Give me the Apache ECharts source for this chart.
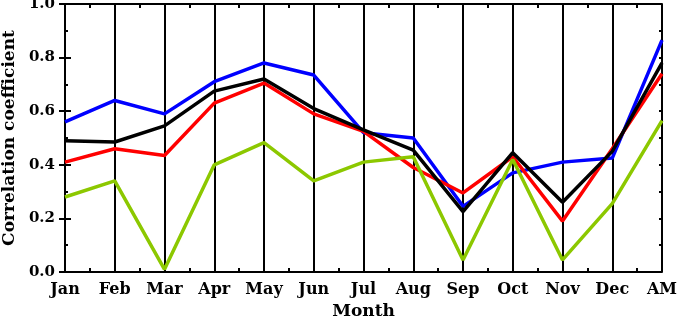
<!DOCTYPE html>
<html>
<head>
<meta charset="utf-8">
<style>
  html, body { margin: 0; padding: 0; background: #fff; }
  #chart { width: 678px; height: 316px; }
</style>
<script src="https://cdn.jsdelivr.net/npm/echarts@6/dist/echarts.min.js"></script>
</head>
<body>
<div id="chart"></div>
<script>
const months = ['Jan', 'Feb', 'Mar', 'Apr', 'May', 'Jun', 'Jul', 'Aug', 'Sep', 'Oct', 'Nov', 'Dec', 'AM']
const blueValues = [0.56, 0.64, 0.59, 0.71, 0.78, 0.735, 0.52, 0.50, 0.245, 0.37, 0.41, 0.425, 0.865]
const redValues = [0.41, 0.46, 0.435, 0.63, 0.705, 0.59, 0.525, 0.39, 0.295, 0.43, 0.19, 0.46, 0.74]
const blackValues = [0.49, 0.485, 0.545, 0.675, 0.72, 0.61, 0.53, 0.455, 0.225, 0.445, 0.26, 0.45, 0.78]
const greenValues = [0.28, 0.34, 0.01, 0.40, 0.483, 0.34, 0.41, 0.43, 0.045, 0.42, 0.045, 0.255, 0.565]
const yTicks = [0, 0.2, 0.4, 0.6, 0.8, 1.0]

const font = 'DejaVu Serif'
const black = '#000'
const gridBox = { left: 65, right: 16, top: 4, bottom: 44, outerBoundsMode: 'none' }

const chart = echarts.init(document.getElementById('chart'))

// extra value axes only to get the small ticks between months
const minorXAxis = (position) => ({
  type: 'value',
  position,
  min: 0,
  max: months.length - 1,
  interval: 0.5,
  axisLine: { show: position === 'top', lineStyle: { color: black, width: 2 } },
  axisTick: { show: true, inside: true, length: 4, lineStyle: { color: black, width: 2 } },
  axisLabel: { show: false },
  splitLine: { show: false }
})

const yAxisBase = (position, gridIndex, interval, tickLen) => ({
  type: 'value',
  gridIndex,
  position,
  min: yTicks[0],
  max: yTicks[yTicks.length - 1],
  interval,
  axisLine: { show: gridIndex === 0, lineStyle: { color: black, width: 2 } },
  axisTick: { show: true, inside: true, length: tickLen, lineStyle: { color: black, width: 2 } },
  axisLabel: { show: false },
  splitLine: { show: false }
})

const lineSeries = (name, data, color) => ({
  name,
  type: 'line',
  data,
  symbol: 'none',
  lineStyle: { color, width: 3.5 },
  itemStyle: { color }
})

chart.setOption({
  animation: false,
  grid: [gridBox, gridBox],
  xAxis: [
    {
      type: 'category',
      data: months,
      boundaryGap: false,
      axisLine: { lineStyle: { color: black, width: 2 } },
      axisTick: { show: false },
      splitLine: { show: true, lineStyle: { color: black, width: 2 } },
      axisLabel: { color: black, fontFamily: font, fontWeight: 'bold', fontSize: 16, margin: 10 },
      name: 'Month',
      nameLocation: 'middle',
      nameGap: 26,
      nameTextStyle: { color: black, fontFamily: font, fontWeight: 'bold', fontSize: 17 }
    },
    minorXAxis('bottom'),
    minorXAxis('top'),
    { type: 'value', gridIndex: 1, show: false, min: 0, max: 1 }
  ],
  yAxis: [
    Object.assign(yAxisBase('left', 0, 0.2, 6), {
      axisLabel: {
        color: black, fontFamily: font, fontWeight: 'bold', fontSize: 15, margin: 10,
        formatter: v => v.toFixed(1)
      },
      name: 'Correlation coefficient',
      nameLocation: 'middle',
      nameGap: 40,
      nameTextStyle: { color: black, fontFamily: font, fontWeight: 'bold', fontSize: 17 }
    }),
    yAxisBase('right', 0, 0.2, 6),
    // minor ticks every 0.1 on both sides
    yAxisBase('left', 1, 0.1, 3),
    yAxisBase('right', 1, 0.1, 3)
  ],
  series: [
    lineSeries('blue', blueValues, '#0000ff'),
    lineSeries('red', redValues, '#ff0000'),
    lineSeries('black', blackValues, '#000000'),
    lineSeries('green', greenValues, '#8cc800')
  ]
})
</script>
</body>
</html>
